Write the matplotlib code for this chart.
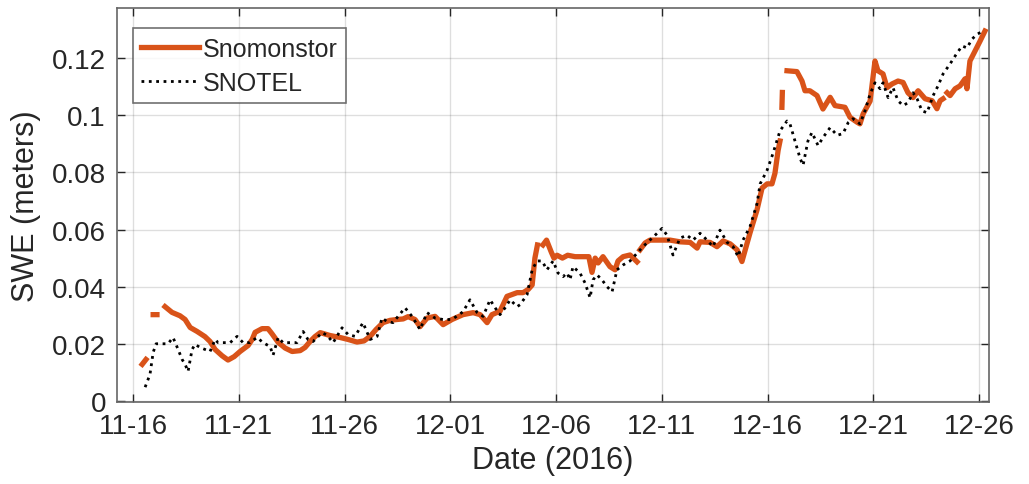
import numpy as np
import pandas as pd
import matplotlib
matplotlib.use('Agg')
import matplotlib.pyplot as plt
import matplotlib.dates as mdates

plt.rcParams['font.family'] = ['Liberation Sans', 'DejaVu Sans']

start = pd.Timestamp('2016-11-16')

# Snomonstor SWE (days since 11-16, meters); NaN marks gaps in the record
snom_days = [0.43, 0.61, np.nan,
             0.95, 1.13, np.nan,
             1.51, 1.84, 2.22, 2.46, 2.70, 3.03, 3.40, 3.64, 3.88, 4.21, 4.49, 4.78,
             5.06, 5.44, 5.63, 5.77, 6.10, 6.38, 6.57, 6.86, 7.19, 7.52, 7.90, 8.13,
             8.37, 8.60, 8.85, 9.31, 9.79, 10.17, 10.59, 10.92, 11.21, 11.49, 11.82,
             12.15, 12.48, 12.77, 13.00, 13.33, 13.57, 13.90, 14.28, 14.66, 15.08,
             15.60, 16.08, 16.41, 16.74, 16.97, 17.35, 17.68, 18.16, 18.44, 18.68,
             18.87, 19.00, 19.12, np.nan,
             19.38, 19.55, 19.78, 19.90, 20.05, 20.30, 20.55, 20.90, 21.28, 21.55,
             21.70, 21.85, 21.99, 22.22, 22.55, 22.79, 22.93, 23.17, 23.50, 23.83,
             np.nan,
             23.97, 24.21, 24.44, 24.92, 25.39, 25.86, 26.34, 26.67, 26.81, 27.28,
             27.61, 27.90, 28.23, 28.56, 28.79, 29.17, 29.50, 29.74, 29.98, 30.21,
             30.35, 30.50, 30.59, np.nan,
             30.68, 30.70, np.nan,
             30.92, 31.39, 31.63, 31.77, 32.00, 32.34, 32.62, 32.96, 33.19, 33.66,
             33.90, 34.23, 34.37, 34.52, 34.85, 35.08, 35.22, 35.46, 35.65, 35.89,
             36.17, 36.41, 36.64, 36.88, 37.12, 37.45, 37.78, 38.01, 38.16, 38.30,
             np.nan,
             38.49, 38.63, 38.87, 39.10, 39.34, 39.43, 39.57, 39.81, 40.05, 40.28]
snom_swe = [0.0128, 0.0145, np.nan,
            0.0302, 0.0302, np.nan,
            0.0330, 0.0310, 0.0298, 0.0285, 0.0257, 0.0243, 0.0225, 0.0208, 0.0180,
            0.0158, 0.0143, 0.0155, 0.0173, 0.0194, 0.0215, 0.0240, 0.0253, 0.0253,
            0.0235, 0.0205, 0.0185, 0.0173, 0.0176, 0.0187, 0.0208, 0.0225, 0.0239,
            0.0229, 0.0222, 0.0215, 0.0206, 0.0210, 0.0226, 0.0250, 0.0274, 0.0282,
            0.0285, 0.0287, 0.0295, 0.0285, 0.0260, 0.0290, 0.0296, 0.0267, 0.0285,
            0.0302, 0.0309, 0.0302, 0.0274, 0.0302, 0.0314, 0.0366, 0.0379, 0.0379,
            0.0390, 0.0406, 0.0500, 0.0546, np.nan,
            0.0546, 0.0563, 0.0520, 0.0500, 0.0510, 0.0500, 0.0510, 0.0505, 0.0505,
            0.0505, 0.0450, 0.0500, 0.0483, 0.0505, 0.0470, 0.0459, 0.0490, 0.0505,
            0.0511, 0.0487, np.nan,
            0.0529, 0.0553, 0.0563, 0.0563, 0.0563, 0.0557, 0.0555, 0.0535, 0.0557,
            0.0555, 0.0540, 0.0560, 0.0550, 0.0529, 0.0488, 0.0588, 0.0668, 0.0745,
            0.0760, 0.0760, 0.0797, 0.0877, 0.0910, np.nan,
            0.1028, 0.1080, np.nan,
            0.1156, 0.1153, 0.1120, 0.1086, 0.1086, 0.1069, 0.1022, 0.1063, 0.1034,
            0.1028, 0.0993, 0.0976, 0.0970, 0.1005, 0.1050, 0.1190, 0.1156, 0.1145,
            0.1097, 0.1110, 0.1120, 0.1115, 0.1079, 0.1062, 0.1086, 0.1058, 0.1051,
            0.1023, 0.1051, 0.1058, np.nan,
            0.1079, 0.1069, 0.1093, 0.1103, 0.1128, 0.1093, 0.1190, 0.1225, 0.1260,
            0.1295]

# SNOTEL SWE (days since 11-16, meters)
snotel_days = [0.57, 0.80, 0.95, 1.09, 1.65, 1.89, 2.13, 2.32, 2.46, 2.60, 2.79, 2.93,
               3.17, 3.64, 3.88, 4.02, 4.59, 4.92, 5.20, 5.53, 5.86, 6.15, 6.48, 6.62,
               6.86, 7.09, 7.75, 8.04, 8.27, 8.51, 8.94, 9.17, 9.46, 9.88, 10.17, 10.50,
               10.87, 11.21, 11.54, 11.77, 12.01, 12.29, 12.86, 13.19, 13.57, 13.90,
               14.28, 14.66, 15.08, 15.60, 15.93, 16.26, 16.55, 16.88, 17.12, 17.35,
               17.59, 17.83, 18.16, 18.30, 18.63, 18.87, 19.10, 19.34, 19.57, 19.86,
               20.09, 20.33, 20.52, 20.66, 20.80, 21.13, 21.37, 21.61, 21.75, 21.94,
               22.17, 22.41, 22.65, 22.88, 23.17, 23.50, 23.83, 24.11, 24.44, 24.78,
               25.01, 25.25, 25.53, 25.86, 26.19, 26.48, 26.81, 27.14, 27.42, 27.75,
               28.09, 28.37, 28.61, 28.84, 29.17, 29.50, 29.65, 29.98, 30.26, 30.59,
               30.92, 31.06, 31.30, 31.54, 31.68, 31.91, 32.10, 32.39, 32.62, 32.96,
               33.29, 33.57, 33.81, 34.04, 34.37, 34.61, 34.85, 35.08, 35.32, 35.46,
               35.70, 35.93, 36.17, 36.41, 36.64, 36.88, 37.07, 37.30, 37.54, 37.83,
               38.06, 38.30, 38.63, 38.96, 39.20, 39.43, 39.67, 39.91, 40.19]
snotel_swe = [0.0048, 0.0093, 0.0170, 0.0200, 0.0200, 0.0222, 0.0180, 0.0145, 0.0128,
              0.0103, 0.0180, 0.0198, 0.0187, 0.0173, 0.0215, 0.0204, 0.0204, 0.0226,
              0.0204, 0.0204, 0.0222, 0.0204, 0.0190, 0.0160, 0.0222, 0.0204, 0.0204,
              0.0243, 0.0215, 0.0208, 0.0239, 0.0230, 0.0204, 0.0256, 0.0232, 0.0226,
              0.0274, 0.0215, 0.0226, 0.0290, 0.0278, 0.0274, 0.0326, 0.0296, 0.0250,
              0.0309, 0.0290, 0.0285, 0.0285, 0.0312, 0.0354, 0.0310, 0.0296, 0.0354,
              0.0326, 0.0302, 0.0326, 0.0354, 0.0330, 0.0337, 0.0372, 0.0459, 0.0490,
              0.0490, 0.0459, 0.0490, 0.0448, 0.0435, 0.0448, 0.0424, 0.0470, 0.0448,
              0.0413, 0.0361, 0.0424, 0.0441, 0.0424, 0.0400, 0.0382, 0.0459, 0.0476,
              0.0490, 0.0517, 0.0540, 0.0563, 0.0587, 0.0604, 0.0580, 0.0511, 0.0570,
              0.0580, 0.0563, 0.0587, 0.0563, 0.0540, 0.0598, 0.0555, 0.0540, 0.0505,
              0.0563, 0.0610, 0.0690, 0.0760, 0.0808, 0.0867, 0.0946, 0.0980, 0.0970,
              0.0910, 0.0849, 0.0825, 0.0910, 0.0940, 0.0894, 0.0922, 0.0957, 0.0930,
              0.0936, 0.0974, 0.0988, 0.0970, 0.1016, 0.1075, 0.1114, 0.1093, 0.1114,
              0.1062, 0.1097, 0.1051, 0.1034, 0.1044, 0.1079, 0.1058, 0.1016, 0.1009,
              0.1069, 0.1103, 0.1145, 0.1180, 0.1218, 0.1243, 0.1236, 0.1267, 0.1284,
              0.1295]

ytick_vals = [0, 0.02, 0.04, 0.06, 0.08, 0.1, 0.12]
ytick_labels = ['0', '0.02', '0.04', '0.06', '0.08', '0.1', '0.12']

snom_t = start + pd.to_timedelta(np.array(snom_days), unit='D')
snotel_t = start + pd.to_timedelta(np.array(snotel_days), unit='D')

txt = (0.15, 0.15, 0.15)
fig = plt.figure(figsize=(10.29, 4.85), dpi=100)
ax = fig.add_axes([0.1137, 0.169, 0.8474, 0.812])

ax.plot(snom_t, snom_swe, color='#D95319', lw=3.8, label='Snomonstor')
ax.plot(snotel_t, snotel_swe, color='black', lw=2.0, ls=':', label='SNOTEL')

ax.set_xlim(start - pd.Timedelta(days=0.76), start + pd.Timedelta(days=40.47))
ax.set_ylim(-0.0004, 0.1375)
ax.set_xticks(pd.date_range(start, periods=9, freq='5D'))
ax.xaxis.set_major_formatter(mdates.DateFormatter('%m-%d'))
ax.set_yticks(ytick_vals)
ax.set_yticklabels(ytick_labels)

ax.grid(True, color=(0.15, 0.15, 0.15), alpha=0.15, lw=1)
ax.tick_params(direction='in', length=6, width=1, top=True, right=True,
               labelsize=20, colors=txt, pad=8)
for s in ax.spines.values():
    s.set_color((0.4, 0.4, 0.4))
    s.set_linewidth(1.2)

ax.set_xlabel('Date (2016)', fontsize=22, color=txt, labelpad=4)
ax.set_ylabel('SWE (meters)', fontsize=22, color=txt, labelpad=8)

leg = ax.legend(loc='upper left', bbox_to_anchor=(0.018, 0.95), fontsize=18,
                frameon=True, fancybox=False, handlelength=2.3, handletextpad=0.15,
                borderpad=0.35, labelspacing=0.4, borderaxespad=0)
leg.get_frame().set_edgecolor((0.3, 0.3, 0.3))
leg.get_frame().set_linewidth(1.2)
for t in leg.get_texts():
    t.set_color(txt)

fig.savefig('out.png', dpi=100)
